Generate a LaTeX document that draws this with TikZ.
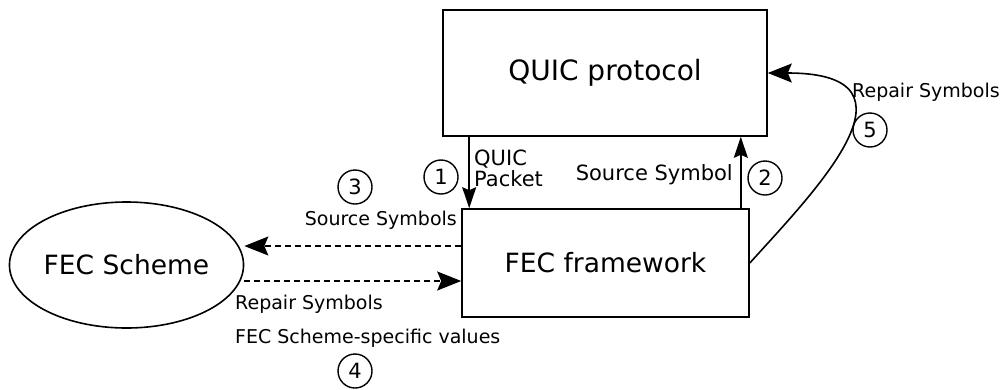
\documentclass[tikz,border=0pt]{standalone}
\usepackage{fontspec}
\setmainfont{DejaVu Sans}
\usetikzlibrary{arrows.meta,shapes.geometric}
\begin{document}
\begin{tikzpicture}[x=1pt,y=-1pt,
  box/.style={draw,line width=1.6pt,inner sep=0pt,font=\fontsize{26.5}{30}\selectfont},
  lbl/.style={font=\fontsize{19}{20}\selectfont,inner sep=0pt},
  biglbl/.style={font=\fontsize{21}{22}\selectfont,inner sep=0pt},
  num/.style={draw,circle,line width=1.4pt,minimum size=34pt,inner sep=0pt,font=\fontsize{21}{21}\selectfont},
  arrsmall/.style={line width=1.6pt,-{Stealth[length=21pt,width=14pt,inset=3pt]}},
  arrbig/.style={line width=1.6pt,-{Stealth[length=24pt,width=19pt,inset=4pt]}},
  dashline/.style={arrbig,dash pattern=on 6pt off 4pt}]
\useasboundingbox (0,0) rectangle (1003,389);

% main blocks
\node[box,minimum width=324pt,minimum height=126pt,font=\fontsize{28}{30}\selectfont] (quic) at (605,73) {QUIC protocol};
\node[box,minimum width=287pt,minimum height=108pt] (fecfw) at (605.5,263) {FEC framework};
\node[box,ellipse,minimum width=233pt,minimum height=126pt] (scheme) at (126.5,265) {FEC Scheme};

% connector labels
\node[biglbl,anchor=base west] (qp1) at (474,165) {QUIC};
\node[biglbl,anchor=base west] (qp2) at (474,186) {Packet};
\node[biglbl,anchor=base east] (ss) at (733,180) {Source Symbol};
\node[lbl,anchor=base east] (sss) at (457,225) {Source Symbols};
\node[lbl,anchor=base west] (rs1) at (235,309) {Repair Symbols};
\node[lbl,anchor=base west] (fsv) at (235,343) {FEC Scheme-specific values};
\node[lbl,anchor=base west] (rs2) at (852,97) {Repair Symbols};

% step numbers
\node[num] (n1) at (441,177) {1};
\node[num] (n2) at (765,178) {2};
\node[num] (n3) at (355,187) {3};
\node[num] (n4) at (355,371) {4};
\node[num] (n5) at (870,130) {5};

% connectors
\draw[arrsmall] ([xshift=27pt]quic.south west) -- ([xshift=8pt]fecfw.north west);
\draw[arrsmall] ([xshift=-9pt]fecfw.north east) -- ([xshift=-27pt]quic.south east);
\draw[dashline] ([yshift=17pt]fecfw.west) -- ([yshift=17pt]fecfw.west -| scheme.east);
\draw[dashline] ([yshift=-18pt]fecfw.west -| scheme.east) -- ([yshift=-18pt]fecfw.west);
\draw[arrbig] (fecfw.east) .. controls +(66,-73) and +(163,0) .. (quic.east);
\end{tikzpicture}
\end{document}
